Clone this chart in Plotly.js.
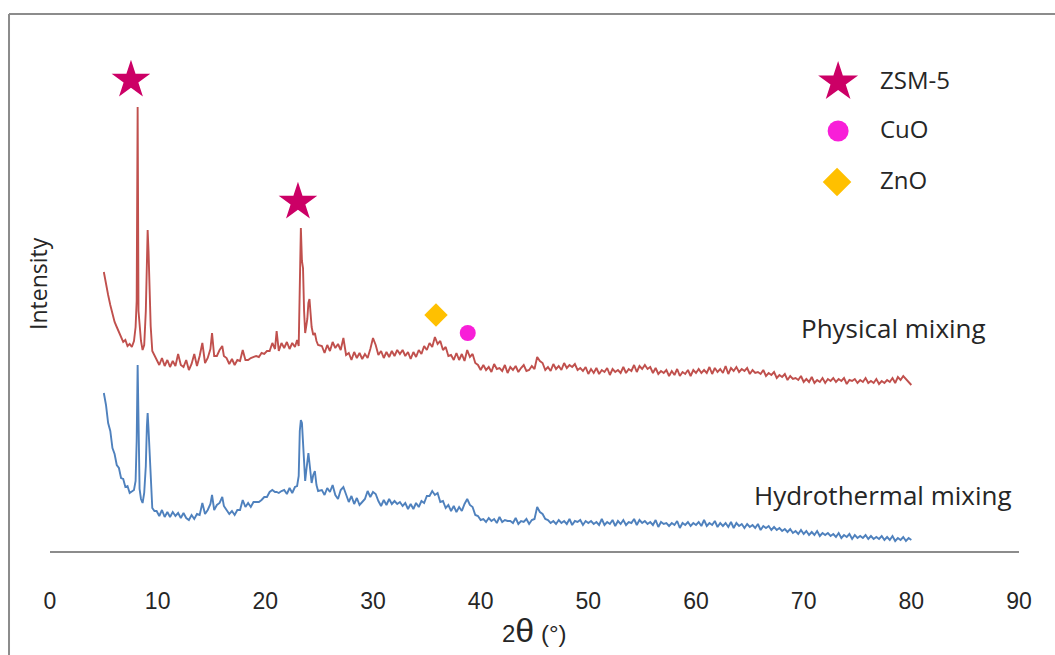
<!DOCTYPE html>
<html>
<head>
<meta charset="utf-8">
<script src="https://cdn.plot.ly/plotly-3.0.1.min.js"></script>
<style>
html,body{margin:0;padding:0;background:#fff;}
#chart{width:1055px;height:655px;}
</style>
</head>
<body>
<div id="chart"></div>
<script>
// 2-theta positions (degrees), shared by both patterns
const twoThetaA = [5.0,5.2,5.4,5.6,5.8,6.0,6.2,6.4,6.6,6.8,7.0,7.2,7.4,7.6,7.8];
const twoThetaB = [7.95,8.05,8.14,8.22,8.32,8.45,8.6,8.75,8.9,9.0,9.07,9.15,9.25,9.35,9.5,9.7];
const twoThetaC = [
  9.9,10.15,10.4,10.65,10.9,11.15,11.4,11.65,11.9,12.15,
  12.4,12.65,12.9,13.15,13.4,13.65,13.9,14.15,14.4,14.65,
  14.9,15.05,15.25,15.5,15.75,16.0,16.15,16.4,16.65,16.9,
  17.15,17.4,17.65,17.9,18.15,18.4,18.65,18.9,19.15,19.4,
  19.65,19.9,20.15,20.4,20.65,20.9,21.05,21.25,21.5,21.75,
  22.0,22.25,22.5,22.75,22.95,23.1];
const twoThetaD = [23.2,23.3,23.4,23.5,23.6,23.7,23.8,23.9,24.0,24.1,24.2,24.3,24.45,24.6,24.75,24.9];
const twoThetaE = [
  25.25,25.5,25.75,26.0,26.25,26.5,26.75,27.0,27.25,27.5,
  27.75,28.0,28.25,28.5,28.75,29.0,29.25,29.5,29.75,30.0,
  30.25,30.5,30.75,31.0,31.25,31.5,31.75,32.0,32.25,32.5,
  32.75,33.0,33.25,33.5,33.75,34.0,34.25,34.5,34.75,35.0,
  35.25,35.5,35.75,36.0,36.25,36.5,36.75,37.0,37.25,37.5,
  37.75,38.0,38.25,38.5,38.75,39.0,39.25,39.5,39.75,40.0,
  40.25,40.5,40.75,41.0,41.25,41.5,41.75,42.0,42.25,42.5,
  42.75,43.0,43.25,43.5,43.75,44.0,44.25,44.5,44.75,45.0,
  45.25,45.5,45.75,46.0,46.25,46.5,46.75,47.0,47.25,47.5,
  47.75,48.0,48.25,48.5,48.75,49.0,49.25,49.5,49.75,50.0,
  50.25,50.5,50.75,51.0,51.25,51.5,51.75,52.0,52.25,52.5,
  52.75,53.0,53.25,53.5,53.75,54.0,54.25,54.5,54.75,55.0,
  55.25,55.5,55.75,56.0,56.25,56.5,56.75,57.0,57.25,57.5,
  57.75,58.0,58.25,58.5,58.75,59.0,59.25,59.5,59.75,60.0,
  60.25,60.5,60.75,61.0,61.25,61.5,61.75,62.0,62.25,62.5,
  62.75,63.0,63.25,63.5,63.75,64.0,64.25,64.5,64.75,65.0,
  65.25,65.5,65.75,66.0,66.25,66.5,66.75,67.0,67.25,67.5,
  67.75,68.0,68.25,68.5,68.75,69.0,69.25,69.5,69.75,70.0,
  70.25,70.5,70.75,71.0,71.25,71.5,71.75,72.0,72.25,72.5,
  72.75,73.0,73.25,73.5,73.75,74.0,74.25,74.5,74.75,75.0,
  75.25,75.5,75.75,76.0,76.25,76.5,76.75,77.0,77.25,77.5,
  77.75,78.0,78.25,78.5,78.75,79.0,79.25,79.5,79.75,80.0];

// Physical mixing intensity (arbitrary units, offset pattern)
const physA = [279,266,256,246,236,229,224,219,215,209,211,205,207,204,210];
const physB = [224,250,444,240,222,210,201,206,240,300,321,300,258,225,200,196];
const physC = [
  192,186,193,185,191,184,190,185,197,186,
  184,191,181,187,197,185,195,208,188,193,
  202,218,195,195,201,205,195,193,187,192,
  186,191,190,201,191,191,193,194,195,194,
  198,197,200,200,208,202,220,200,208,203,
  209,202,208,204,211,205];
const physD = [260,323,290,283,240,218,225,232,248,252,238,224,216,218,210,206];
const physE = [
  205,198,206,200,209,203,207,201,213,196,
  198,191,199,193,198,192,197,193,202,213,
  206,196,200,193,199,194,200,195,201,197,
  201,195,199,192,199,194,201,197,205,201,
  208,204,214,207,210,201,204,195,196,191,
  198,191,197,190,201,194,197,188,186,181,
  186,181,184,179,187,182,183,180,186,178,
  184,181,185,179,183,186,180,181,185,182,
  194,190,188,181,184,180,187,182,185,181,
  188,183,186,184,187,181,183,180,184,177,
  182,178,183,177,181,179,183,176,182,179,
  181,178,184,178,182,180,186,179,185,182,
  186,182,184,178,183,177,180,178,181,175,
  180,176,182,175,179,177,181,175,181,178,
  182,178,181,178,184,177,183,179,182,178,
  185,177,183,180,184,179,182,180,183,177,
  181,178,179,177,181,175,178,176,179,173,
  176,174,177,171,175,172,173,171,175,169,
  172,169,174,168,171,169,173,168,172,170,
  173,169,172,170,173,167,171,170,172,168,
  171,169,173,168,170,168,172,167,170,168,
  171,169,173,168,174,171,175,172,169,166];

// Hydrothermal mixing intensity
const hydroA = [158,146,128,120,103,97,86,83,73,72,64,65,58,60,61];
const hydroB = [70,110,186,105,62,52,48,58,85,125,138,122,98,65,43,40];
const hydroC = [
  40,35,41,34,39,34,39,35,38,33,
  38,33,31,36,32,37,36,48,37,41,
  47,56,41,46,48,54,45,41,37,40,
  36,41,41,51,44,48,44,49,49,49,
  51,54,54,59,61,59,59,58,60,61,
  57,63,58,64,65,75];
const hydroD = [120,131,128,112,90,70,80,92,98,88,74,68,76,80,66,60];
const hydroE = [
  61,56,63,59,66,56,52,61,64,56,
  49,55,47,53,46,49,52,60,54,59,
  57,50,45,51,46,52,47,50,47,49,
  45,48,42,47,42,48,44,50,48,55,
  55,60,56,58,49,50,43,46,40,45,
  39,44,40,47,52,46,44,36,35,31,
  32,29,33,30,32,28,34,29,31,30,
  30,28,33,27,30,29,32,27,31,32,
  44,39,37,32,31,28,30,27,31,28,
  30,27,32,26,30,29,31,26,30,28,
  30,27,29,26,32,26,29,27,31,25,
  30,27,31,26,29,28,32,26,31,28,
  30,27,29,26,31,24,29,27,28,25,
  28,26,30,23,28,26,29,25,28,26,
  29,25,31,25,28,26,30,24,28,25,
  28,24,29,23,28,25,27,23,27,24,
  26,23,27,21,25,23,25,21,24,21,
  23,20,22,19,22,18,20,17,21,17,
  20,16,19,16,20,15,18,16,18,15,
  17,14,18,13,16,14,17,12,16,13,
  15,13,16,12,15,12,14,12,15,11,
  14,11,15,10,13,11,14,10,13,11];

// Phase markers
const zsmX = [7.52, 23.03];
const zsmY = [471, 349];
const znoX = [35.85];
const znoY = [236];
const cuoX = [38.8];
const cuoY = [218];

// Marker key
const keyLabels = ["ZSM-5", "CuO", "ZnO"];
const keyX = [73.2, 73.2, 73.1];
const keyY = [469, 420, 369];

const xTicks = [0,10,20,30,40,50,60,70,80,90];

const twoTheta = [].concat(twoThetaA, twoThetaB, twoThetaC, twoThetaD, twoThetaE);
const phys = [].concat(physA, physB, physC, physD, physE);
const hydro = [].concat(hydroA, hydroB, hydroC, hydroD, hydroE);

const textFont = {family: "Open Sans, Noto Sans, sans-serif", color: "#262626"};
const narrowFont = "Liberation Sans Narrow, Arial Narrow, sans-serif";

const traces = [
  {x: twoTheta, y: hydro, type: "scatter", mode: "lines",
   line: {color: "#4F81BD", width: 1.9}, hoverinfo: "skip"},
  {x: twoTheta, y: phys, type: "scatter", mode: "lines",
   line: {color: "#C0504D", width: 1.9}, hoverinfo: "skip"},
  {x: zsmX, y: zsmY, type: "scatter", mode: "markers",
   marker: {symbol: "star", size: 29, color: "#CC0066", line: {width: 0}}},
  {x: znoX, y: znoY, type: "scatter", mode: "markers",
   marker: {symbol: "diamond", size: 18, color: "#FFC000", line: {width: 0}}},
  {x: cuoX, y: cuoY, type: "scatter", mode: "markers",
   marker: {symbol: "circle", size: 16, color: "#F81FD8", line: {width: 0}}},
  {x: [keyX[0]], y: [keyY[0]], type: "scatter", mode: "markers",
   marker: {symbol: "star", size: 30, color: "#CC0066", line: {width: 0}}},
  {x: [keyX[1]], y: [keyY[1]], type: "scatter", mode: "markers",
   marker: {symbol: "circle", size: 21, color: "#F81FD8", line: {width: 0}}},
  {x: [keyX[2]], y: [keyY[2]], type: "scatter", mode: "markers",
   marker: {symbol: "diamond", size: 22, color: "#FFC000", line: {width: 0}}}
];

const annotations = keyLabels.map((t, i) => ({
  x: 76.9, y: keyY[i] + 3, xref: "x", yref: "y", text: t, showarrow: false,
  xanchor: "left", yanchor: "middle", font: Object.assign({size: 24}, textFont)
}));
annotations.push({x: 78.3, y: 223, xref: "x", yref: "y", text: "Physical mixing",
  showarrow: false, xanchor: "center", yanchor: "middle",
  font: Object.assign({size: 26}, textFont)});
annotations.push({x: 77.4, y: 56, xref: "x", yref: "y", text: "Hydrothermal mixing",
  showarrow: false, xanchor: "center", yanchor: "middle",
  font: Object.assign({size: 26}, textFont)});
annotations.push({x: -0.0124, y: 0.5245, xref: "paper", yref: "paper", text: "Intensity",
  textangle: -90, showarrow: false, xanchor: "center", yanchor: "middle",
  font: Object.assign({size: 23}, textFont)});
annotations.push({x: 0.5005, y: -0.1546, xref: "paper", yref: "paper",
  text: "2<span style='font-size:34px'>θ</span> (°)",
  showarrow: false, xanchor: "center", yanchor: "middle",
  font: {family: narrowFont, size: 24, color: "#262626"}});

const layout = {
  width: 1055, height: 655,
  margin: {l: 50, r: 36, t: 40, b: 104},
  paper_bgcolor: "#ffffff", plot_bgcolor: "#ffffff",
  showlegend: false,
  xaxis: {
    range: [0, 90], tickvals: xTicks, ticktext: xTicks.map(String),
    showgrid: false, zeroline: false, showline: true,
    linecolor: "#8c8c8c", linewidth: 2, ticks: "",
    ticklabelstandoff: 28,
    tickfont: {family: narrowFont, size: 23, color: "#262626"}
  },
  yaxis: {
    range: [0, 511], showgrid: false, zeroline: false, showline: false,
    showticklabels: false, ticks: ""
  },
  annotations: annotations,
  shapes: [
    {type: "line", xref: "paper", yref: "paper", x0: -0.0423, x1: 1.05, y0: 1.0509, y1: 1.0509,
     line: {color: "#8c8c8c", width: 2}},
    {type: "line", xref: "paper", yref: "paper", x0: -0.0423, x1: -0.0423, y0: 1.0509, y1: -0.25,
     line: {color: "#8c8c8c", width: 2}}
  ]
};

Plotly.newPlot("chart", traces, layout, {displayModeBar: false, staticPlot: true});
</script>
</body>
</html>
